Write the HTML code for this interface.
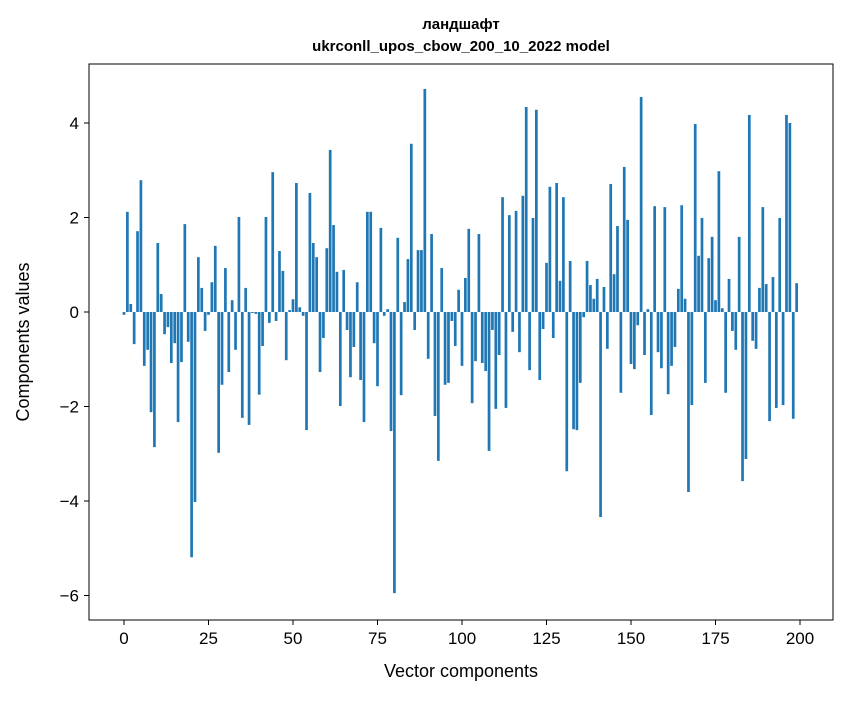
<!DOCTYPE html>
<html><head><meta charset="utf-8"><style>
body{margin:0;background:#fff;}
text{font-family:"Liberation Sans","DejaVu Sans",sans-serif;}
</style></head><body>
<svg id="chart" width="847" height="696" xmlns="http://www.w3.org/2000/svg">
<rect width="847" height="696" fill="#fff"/>
<text x="461" y="29" text-anchor="middle" font-size="15" font-weight="bold">ландшафт</text>
<text x="461" y="51" text-anchor="middle" font-size="15" font-weight="bold">ukrconll_upos_cbow_200_10_2022 model</text>
<g id="bars"></g>
<rect x="89" y="64" width="744" height="556" fill="none" stroke="#000" stroke-width="1"/>
<g id="xticks"></g>
<g id="yticks"></g>
<text x="461" y="677" text-anchor="middle" font-size="18">Vector components</text>
<text x="0" y="0" transform="translate(29,342) rotate(-90)" text-anchor="middle" font-size="18">Components values</text>
</svg>
<script>
const values = [-0.06,2.12,0.17,-0.68,1.71,2.79,-1.14,-0.8,-2.12,-2.86,1.46,0.38,-0.47,-0.32,-1.08,-0.66,-2.33,-1.06,1.86,-0.63,
-5.19,-4.02,1.16,0.51,-0.4,-0.06,0.63,1.4,-2.98,-1.54,0.93,-1.27,0.25,-0.8,2.01,-2.24,0.51,-2.39,-0.02,-0.04,
-1.75,-0.72,2.01,-0.23,2.96,-0.19,1.29,0.87,-1.02,0.04,0.27,2.73,0.1,-0.08,-2.5,2.52,1.46,1.16,-1.27,-0.55,
1.35,3.43,1.84,0.85,-1.99,0.89,-0.38,-1.38,-0.74,0.63,-1.44,-2.33,2.12,2.12,-0.66,-1.57,1.78,-0.08,0.06,-2.52,
-5.95,1.57,-1.76,0.21,1.12,3.56,-0.38,1.31,1.31,4.72,-0.99,1.65,-2.2,-3.15,0.93,-1.54,-1.5,-0.19,-0.72,0.47,
-1.14,0.72,1.76,-1.93,-1.04,1.65,-1.08,-1.25,-2.94,-0.38,-2.05,-0.91,2.43,-2.03,2.05,-0.42,2.14,-0.85,2.46,4.34,
-1.23,1.99,4.28,-1.44,-0.36,1.04,2.65,-0.55,2.73,0.66,2.43,-3.37,1.08,-2.48,-2.5,-1.5,-0.11,1.08,0.57,0.28,
0.7,-4.34,0.53,-0.78,2.71,0.8,1.82,-1.71,3.07,1.95,-1.1,-1.21,-0.28,4.55,-0.91,0.06,-2.18,2.24,-0.85,-1.19,
2.22,-1.74,-1.14,-0.74,0.49,2.26,0.28,-3.81,-1.97,3.98,1.19,1.99,-1.5,1.14,1.59,0.25,2.98,0.08,-1.71,0.7,
-0.4,-0.8,1.59,-3.58,-3.11,4.17,-0.61,-0.78,0.51,2.22,0.59,-2.31,0.74,-2.03,1.99,-1.97,4.17,4.0,-2.26,0.61];
const xTicks = [0,25,50,75,100,125,150,175,200];
const yTicks = [-6,-4,-2,0,2,4];
const NS="http://www.w3.org/2000/svg";
function xs(v){return 124+v*3.38;}
function ys(v){return 312-v*47.25;}
const bw=0.8*3.38;
const bars=document.getElementById('bars');
values.forEach((v,i)=>{
  const r=document.createElementNS(NS,'rect');
  r.setAttribute('x',xs(i)-bw/2);
  r.setAttribute('width',bw);
  r.setAttribute('y',Math.min(ys(v),ys(0)));
  r.setAttribute('height',Math.abs(ys(v)-ys(0)));
  r.setAttribute('fill','#1f77b4');
  
  
  bars.appendChild(r);
});
const xg=document.getElementById('xticks');
xTicks.forEach(t=>{
  const l=document.createElementNS(NS,'line');
  l.setAttribute('x1',xs(t));l.setAttribute('x2',xs(t));l.setAttribute('y1',620);l.setAttribute('y2',625);l.setAttribute('stroke','#000');
  
  
  xg.appendChild(l);
  const tx=document.createElementNS(NS,'text');
  tx.setAttribute('x',xs(t));tx.setAttribute('y',644);tx.setAttribute('text-anchor','middle');tx.setAttribute('font-size','17');
  tx.textContent=t;
  
  
  xg.appendChild(tx);
});
const yg=document.getElementById('yticks');
yTicks.forEach(t=>{
  const l=document.createElementNS(NS,'line');
  l.setAttribute('x1',84);l.setAttribute('x2',89);l.setAttribute('y1',ys(t));l.setAttribute('y2',ys(t));l.setAttribute('stroke','#000');
  
  
  yg.appendChild(l);
  const tx=document.createElementNS(NS,'text');
  tx.setAttribute('x',79);tx.setAttribute('y',ys(t)+6);tx.setAttribute('text-anchor','end');tx.setAttribute('font-size','17');
  tx.textContent=(t<0?'\u2212':'')+Math.abs(t);
  
  
  yg.appendChild(tx);
});
</script>
</body></html>
